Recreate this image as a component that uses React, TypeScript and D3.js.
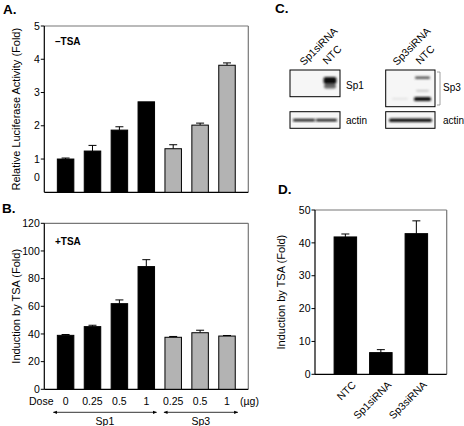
import React from "react";
import * as d3 from "d3";

// ---------- data ----------
const doseLabels = ["0", "0.25", "0.5", "1", "0.25", "0.5", "1"];
const groups = ["Sp1", "Sp1", "Sp1", "Sp1", "Sp3", "Sp3", "Sp3"];

const aValues = [1.0, 1.24, 1.87, 2.72, 1.31, 2.02, 3.82];
const aErrTop = [1.03, 1.41, 1.97, 2.72, 1.43, 2.08, 3.89];
const aTicks = [1, 2, 3, 4, 5];

const bValues = [39.0, 45.3, 61.9, 88.7, 37.6, 40.9, 38.5];
const bErrTop = [39.6, 46.3, 64.6, 93.7, 38.2, 42.7, 38.9];
const bTicks = [0, 20, 40, 60, 80, 100, 120];

const dCategories = ["NTC", "Sp1siRNA", "Sp3siRNA"];
const dValues = [41.8, 6.6, 42.8];
const dErrTop = [42.7, 7.5, 46.7];
const dTicks = [0, 10, 20, 30, 40, 50];

const FONT = "'Liberation Sans', Arial, Helvetica, sans-serif";
const GRAY = "#b3b3b3";

const idx = d3.range(doseLabels.length).map(String);

function Bars({ x, y, values, errTop, colorFn, capW = 8 }: any) {
  return (
    <g>
      {values.map((v: number, i: number) => {
        const x0 = x(String(i));
        const bw = x.bandwidth();
        const cx = x0 + bw / 2;
        return (
          <g key={i}>
            {errTop[i] > v && (
              <g stroke="#000" strokeWidth={1}>
                <line x1={cx} x2={cx} y1={y(v)} y2={y(errTop[i])} />
                <line x1={cx - capW / 2} x2={cx + capW / 2} y1={y(errTop[i])} y2={y(errTop[i])} />
              </g>
            )}
            <rect x={x0} y={y(v)} width={bw} height={y(0) - y(v)} fill={colorFn(i)} stroke="#000" strokeWidth={1} />
          </g>
        );
      })}
    </g>
  );
}

function Frame({ x0, x1, y0, y1 }: any) {
  return (
    <g fill="none">
      <line x1={x0} x2={x1} y1={y1} y2={y1} stroke="#777" strokeWidth={1.2} />
      <line x1={x1} x2={x1} y1={y1} y2={y0} stroke="#777" strokeWidth={1.2} />
      <line x1={x0} x2={x0} y1={y1} y2={y0} stroke="#000" strokeWidth={1.2} />
      <line x1={x0} x2={x1} y1={y0} y2={y0} stroke="#000" strokeWidth={1.2} />
    </g>
  );
}

function YTicks({ y, ticks, x0 }: any) {
  return (
    <g fontFamily={FONT} fontSize={10.5} fill="#000">
      {ticks.map((t: number) => (
        <g key={t}>
          <line x1={x0 - 3.5} x2={x0} y1={y(t)} y2={y(t)} stroke="#000" strokeWidth={1} />
          <text x={x0 - 4.5} y={y(t)} dy="0.35em" textAnchor="end">{t}</text>
        </g>
      ))}
    </g>
  );
}

export default function App() {
  // Panel A
  const ax0 = 44.3, ax1 = 248.3;
  const xA = d3.scaleBand().domain(idx).range([ax0, ax1]).paddingInner(0.387).paddingOuter(0.485);
  const yA = d3.scaleLinear().domain([0, 5]).range([192.3, 26]);
  // Panel B
  const yB = d3.scaleLinear().domain([0, 120]).range([389.3, 223.3]);
  // Panel D
  const dx0 = 315, dx1 = 446.7;
  const xD = d3.scaleBand().domain(dCategories.map((_, i) => String(i))).range([dx0, dx1]).paddingInner(0.366).paddingOuter(0.538);
  const yD = d3.scaleLinear().domain([0, 50]).range([374.3, 210]);

  const colorFn = (i: number) => (groups[i] === "Sp1" ? "#000" : GRAY);

  const sp1Idx = groups.map((g, i) => (g === "Sp1" ? i : -1)).filter((i) => i >= 0);
  const sp3Idx = groups.map((g, i) => (g === "Sp3" ? i : -1)).filter((i) => i >= 0);
  const arrowY = 412.3;
  const sp1L = xA(String(sp1Idx[0]))! - 4, sp1R = xA(String(sp1Idx[sp1Idx.length - 1]))! + xA.bandwidth() + 2;
  const sp3L = xA(String(sp3Idx[0]))! - 1, sp3R = xA(String(sp3Idx[sp3Idx.length - 1]))! + xA.bandwidth() + 2.5;

  return (
    <svg width={464} height={426} style={{ position: "absolute", left: 0, top: 0, background: "#fff" }} fontFamily={FONT}>
      <defs>
        <marker id="arr" viewBox="0 0 10 10" refX="9" refY="5" markerWidth="6" markerHeight="5" orient="auto-start-reverse">
          <path d="M0,1 L10,5 L0,9 Z" fill="#000" />
        </marker>
        <filter id="blur1" x="-20%" y="-50%" width="140%" height="200%">
          <feGaussianBlur stdDeviation="0.8" />
        </filter>
      </defs>
      <rect width={464} height={426} fill="#fff" />

      {/* panel letters */}
      <g fontWeight="bold" fontSize={13.5}>
        <text x={3} y={14}>A.</text>
        <text x={2} y={213}>B.</text>
        <text x={275} y={13}>C.</text>
        <text x={278} y={194}>D.</text>
      </g>

      {/* ===== Panel A ===== */}
      <Frame x0={ax0} x1={ax1} y0={yA(0)} y1={yA(5)} />
      <YTicks y={yA} ticks={aTicks} x0={ax0} />
      <text x={ax0 - 4.5} y={yA(0) - 15} dy="0.35em" textAnchor="end" fontSize={10.5}>0</text>
      <text transform={`translate(20,${(yA(0) + yA(5)) / 2}) rotate(-90)`} textAnchor="middle" fontSize={11}>
        Relative Luciferase Activity (Fold)
      </text>
      <text x={55} y={45} fontWeight="bold" fontSize={10}>–TSA</text>
      <Bars x={xA} y={yA} values={aValues} errTop={aErrTop} colorFn={colorFn} />

      {/* ===== Panel B ===== */}
      <Frame x0={ax0} x1={ax1} y0={yB(0)} y1={yB(120)} />
      <YTicks y={yB} ticks={bTicks} x0={ax0} />
      <text transform={`translate(20,${(yB(0) + yB(120)) / 2}) rotate(-90)`} textAnchor="middle" fontSize={11}>
        Induction by TSA (Fold)
      </text>
      <text x={55} y={245} fontWeight="bold" fontSize={10}>+TSA</text>
      <Bars x={xA} y={yB} values={bValues} errTop={bErrTop} colorFn={colorFn} />
      <g fontSize={10.5}>
        <text x={29} y={405}>Dose</text>
        {doseLabels.map((d, i) => (
          <text key={i} x={xA(String(i))! + xA.bandwidth() / 2} y={405} textAnchor="middle">{d}</text>
        ))}
        <text x={240} y={405}>(µg)</text>
      </g>
      <line x1={sp1L} x2={sp1R} y1={arrowY} y2={arrowY} stroke="#000" strokeWidth={0.8} markerStart="url(#arr)" markerEnd="url(#arr)" />
      <line x1={sp3L} x2={sp3R} y1={arrowY} y2={arrowY} stroke="#000" strokeWidth={0.8} markerStart="url(#arr)" markerEnd="url(#arr)" />
      <g fontSize={10.5} textAnchor="middle">
        <text x={(sp1L + sp1R) / 2} y={425}>Sp1</text>
        <text x={(sp3L + sp3R) / 2} y={425}>Sp3</text>
      </g>

      {/* ===== Panel C ===== */}
      <g fontSize={10.5}>
        <text transform="translate(304,66) rotate(-45)">Sp1siRNA</text>
        <text transform="translate(327,65) rotate(-45)">NTC</text>
        <text transform="translate(397,66) rotate(-45)">Sp3siRNA</text>
        <text transform="translate(420,65) rotate(-45)">NTC</text>
      </g>
      {/* Sp1 blot */}
      <rect x={290} y={70} width={50} height={26.7} fill="#f6f6f6" stroke="#000" strokeWidth={1} />
      <g filter="url(#blur1)">
        <rect x={323.5} y={77} width={13} height={7} rx={2} fill="#111" />
        <rect x={324} y={84} width={12} height={4.5} rx={2} fill="#666" />
      </g>
      <rect x={290} y={111.7} width={50} height={16.6} fill="#f6f6f6" stroke="#000" strokeWidth={1} />
      <g filter="url(#blur1)">
        <rect x={293} y={118.8} width={22} height={2.6} rx={1} fill="#222" />
        <rect x={316} y={118.8} width={21} height={2.6} rx={1} fill="#222" />
      </g>
      <g fontSize={10}>
        <text x={346} y={88.5}>Sp1</text>
        <text x={346} y={123.5}>actin</text>
        <text x={443} y={91}>Sp3</text>
        <text x={443} y={123.5}>actin</text>
      </g>
      {/* Sp3 blot */}
      <rect x={385.7} y={70} width={49.3} height={36.7} fill="#f6f6f6" stroke="#000" strokeWidth={1} />
      <g filter="url(#blur1)">
        <rect x={415} y={76.5} width={15} height={2.5} rx={1} fill="#555" />
        <rect x={416} y={90} width={13} height={1.5} rx={1} fill="#bbb" />
        <rect x={414} y={97} width={17} height={4} rx={1.5} fill="#111" />
        <rect x={392} y={98} width={16} height={1.5} rx={1} fill="#ddd" />
      </g>
      <rect x={385.7} y={111.7} width={49.3} height={16.6} fill="#f6f6f6" stroke="#000" strokeWidth={1} />
      <g filter="url(#blur1)">
        <rect x={389} y={118.5} width={43} height={3.5} rx={1.5} fill="#111" />
      </g>
      <path d="M437,72 L440,72 L440,105 L437,105" fill="none" stroke="#888" strokeWidth={0.8} />

      {/* ===== Panel D ===== */}
      <Frame x0={dx0} x1={dx1} y0={yD(0)} y1={yD(50)} />
      <YTicks y={yD} ticks={dTicks} x0={dx0} />
      <text transform={`translate(285,${(yD(0) + yD(50)) / 2}) rotate(-90)`} textAnchor="middle" fontSize={11}>
        Induction by TSA (Fold)
      </text>
      <Bars x={xD} y={yD} values={dValues} errTop={dErrTop} colorFn={() => "#000"} />
      <g fontSize={10.5}>
        {dCategories.map((c, i) => (
          <text key={c} transform={`translate(${xD(String(i))! + xD.bandwidth() / 2 + 6},${yD(0) + 6}) rotate(-45)`} textAnchor="end" dy="0.7em">
            {c}
          </text>
        ))}
      </g>
    </svg>
  );
}
